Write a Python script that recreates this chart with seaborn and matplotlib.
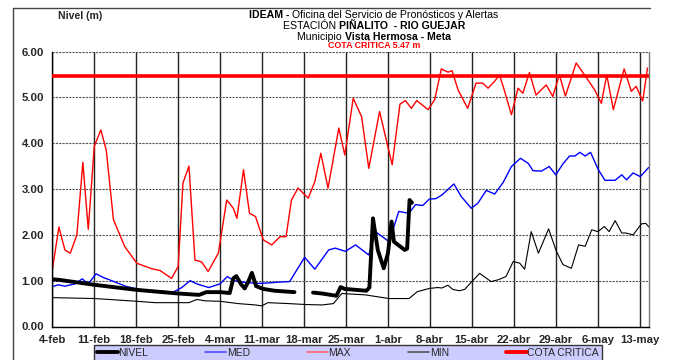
import numpy as np
import pandas as pd
import matplotlib
matplotlib.use("Agg")
import matplotlib.pyplot as plt
from matplotlib.lines import Line2D
import seaborn as sns

# ---------------- data (days after 4-feb) ----------------
tick_labels = ["4-feb", "11-feb", "18-feb", "25-feb", "4-mar", "11-mar", "18-mar",
               "25-mar", "1-abr", "8-abr", "15-abr", "22-abr", "29-abr", "6-may", "13-may"]

max_day = [0, 1.1, 2.1, 3, 4.1, 5.1, 6, 7, 8.1, 9, 10.2, 12.1, 14.1, 16.6, 18, 19.9, 21, 21.8,
           22.8, 23.8, 24.9, 26, 27.7, 29.1, 30.2, 30.8, 31.9, 32.9, 33.9, 35.2, 36.6, 38, 39,
           39.9, 41, 42.7, 43.8, 44.8, 46, 47.8, 48.8, 50.2, 51.6, 52.8, 54.6, 56.7, 58, 58.9,
           59.9, 60.8, 62.7, 63.8, 64.9, 66, 66.7, 67.7, 69.3, 70.7, 71.8, 72.7, 73.8, 74.6,
           75.4, 76.6, 77.7, 78.5, 79.6, 80.7, 82.4, 83.5, 84.6, 85.6, 87.4, 89, 90.5, 91.6,
           92.5, 93.6, 95.4, 96.6, 97.4, 98.5, 99.3]
max_val = [1.23, 2.17, 1.67, 1.60, 2.00, 3.58, 2.12, 3.93, 4.29, 3.85, 2.33, 1.74, 1.38, 1.26,
           1.22, 1.05, 1.31, 3.13, 3.50, 1.45, 1.41, 1.20, 1.60, 2.76, 2.58, 2.36, 3.42, 2.47,
           2.40, 1.89, 1.78, 1.96, 1.96, 2.76, 3.02, 2.80, 3.16, 3.78, 3.02, 4.33, 3.74, 4.98,
           4.58, 3.45, 4.69, 3.53, 4.85, 4.93, 4.76, 4.93, 4.73, 4.95, 5.62, 5.55, 5.58, 5.16,
           4.76, 5.31, 5.31, 5.20, 5.35, 5.49, 5.16, 4.62, 5.20, 5.09, 5.54, 5.05, 5.27, 5.02,
           5.49, 5.03, 5.75, 5.45, 5.16, 4.87, 5.49, 4.73, 5.62, 5.13, 5.24, 4.92, 5.64]

med_day = [0, 1, 2.1, 3.8, 5, 5.7, 6.3, 7.3, 8.5, 9.9, 12.2, 14.4, 17.2, 20.2, 21.6, 23, 24.1,
           26.1, 28, 29.2, 30.3, 32.2, 34.5, 36, 38, 39.6, 42.1, 43.8, 46.1, 47.2, 48.9, 50.6,
           52.8, 53.9, 56.2, 57.8, 59.5, 60.6, 61.8, 62.9, 64, 65, 67, 68.2, 69.9, 71, 72.4,
           73.8, 75.2, 76.6, 78.1, 79.4, 80.2, 81.6, 82.9, 84, 85.2, 86.3, 87.2, 88, 88.9, 89.8,
           91.1, 92.2, 93.9, 95, 95.8, 96.9, 98.1, 99.5]
med_val = [0.87, 0.91, 0.88, 0.93, 1.04, 0.96, 0.98, 1.15, 1.07, 1.00, 0.88, 0.81, 0.78, 0.75,
           0.85, 1.00, 0.93, 0.85, 0.93, 1.09, 1.00, 0.96, 0.94, 0.95, 0.97, 0.98, 1.51, 1.25,
           1.67, 1.71, 1.64, 1.78, 1.56, 2.07, 1.85, 2.51, 2.47, 2.66, 2.64, 2.78, 2.79, 2.87,
           3.11, 2.84, 2.58, 2.69, 2.97, 2.89, 3.14, 3.49, 3.67, 3.56, 3.40, 3.39, 3.49, 3.31,
           3.55, 3.72, 3.72, 3.80, 3.72, 3.80, 3.42, 3.19, 3.19, 3.31, 3.20, 3.35, 3.27, 3.47]

min_day = [0, 7.1, 14.1, 17.2, 21.1, 22.8, 24.1, 25.5, 28, 31, 33.9, 34.9, 36, 39.4, 42.2, 45,
           46.9, 48.3, 52.2, 56.2, 59.5, 60.9, 62.9, 64.3, 65, 66, 66.8, 67.9, 68.8, 70, 71.3,
           73.2, 74.4, 75.7, 76.9, 78, 78.8, 79.9, 81.1, 82.8, 84.1, 85.2, 86.6, 87.8, 88.9, 90,
           91, 92.1, 92.9, 93.9, 95, 95.7, 96.9, 98.3, 99, 99.9]
min_val = [0.63, 0.61, 0.55, 0.52, 0.52, 0.52, 0.59, 0.56, 0.55, 0.50, 0.47, 0.45, 0.52, 0.50,
           0.48, 0.47, 0.50, 0.72, 0.69, 0.61, 0.61, 0.76, 0.83, 0.85, 0.84, 0.90, 0.81, 0.78,
           0.81, 0.98, 1.16, 0.98, 1.02, 1.09, 1.42, 1.38, 1.25, 2.07, 1.60, 2.13, 1.64, 1.35,
           1.27, 1.78, 1.75, 2.11, 2.07, 2.18, 2.07, 2.31, 2.04, 2.04, 2.00, 2.24, 2.25, 2.12]

nivel1_day = [0, 1, 7, 14, 21, 24.5, 25.7, 28, 29.6, 30.2, 30.7, 31.5, 32.1, 32.7, 33.3, 34,
              35.2, 37.1, 40.4]
nivel1_val = [1.03, 1.02, 0.91, 0.80, 0.72, 0.69, 0.75, 0.75, 0.73, 1.05, 1.10, 0.92, 0.83,
              0.98, 1.17, 0.88, 0.82, 0.78, 0.75]
nivel2_day = [43.5, 45, 47.4, 48.1, 48.8, 52.4, 52.9, 53.5, 54.3, 55.3, 56.0, 56.6, 57.0, 58.8,
              59.2, 59.6, 60.0]
nivel2_val = [0.74, 0.72, 0.67, 0.86, 0.82, 0.78, 0.85, 2.36, 1.67, 1.27, 1.60, 2.29, 1.85,
              1.67, 1.70, 2.76, 2.70]

cota_critica = 5.47

# ---------------- styling ----------------
sns.set_style("white")
plt.rcParams['font.family'] = ['Liberation Sans', 'DejaVu Sans']

W, H = 673, 360
fig = plt.figure(figsize=(W / 100, H / 100), dpi=100)
ax = fig.add_axes([52.3 / W, 1 - 326.5 / H, (649.3 - 52.3) / W, (326.5 - 51.5) / H])

c_max, c_med, c_min, c_niv = "#ff0000", "#0000ff", "#000000", "#000000"

sns.lineplot(x=max_day, y=max_val, ax=ax, color=c_max, lw=1.0, sort=False)
sns.lineplot(x=med_day, y=med_val, ax=ax, color=c_med, lw=1.0, sort=False)
sns.lineplot(x=min_day, y=min_val, ax=ax, color=c_min, lw=0.8, sort=False)
sns.lineplot(x=nivel1_day, y=nivel1_val, ax=ax, color=c_niv, lw=2.8, sort=False)
sns.lineplot(x=nivel2_day, y=nivel2_val, ax=ax, color=c_niv, lw=2.8, sort=False)
ax.axhline(cota_critica, color="#ff0000", lw=2.6, zorder=5)

ax.set_xlim(0, 99.6)
ax.set_ylim(0, 6)
ax.set_xticks(np.arange(len(tick_labels)) * 7)
ax.set_xticklabels(tick_labels, fontsize=8.2, fontweight="bold")
yt = np.arange(0, 7)
ax.set_yticks(yt)
ax.set_yticklabels([f"{v:.2f}" for v in yt], fontsize=8.2, fontweight="bold")
ax.set_xlabel("")
ax.set_ylabel("")
ax.tick_params(axis="both", direction="out", length=4, width=1, color="black", pad=2)

ax.set_axisbelow(True)
ax.grid(axis="x", color="#222222", lw=1.0, ls="-")
ax.grid(axis="y", color="#555555", lw=0.8, ls=(0, (2, 1)))
for s in ["left", "bottom"]:
    ax.spines[s].set_color("black")
    ax.spines[s].set_linewidth(1.0)
ax.spines["top"].set_visible(False)
ax.spines["right"].set_color("#777777")
ax.spines["right"].set_linewidth(1.0)

# outer frame
fig.add_artist(Line2D([13 / W, 13 / W], [0, 1 - 8 / H], color="#444444", lw=1.0))
fig.add_artist(Line2D([13 / W, 650 / W], [1 - 8 / H, 1 - 8 / H], color="#444444", lw=1.0))

# titles
fig.canvas.draw()
renderer = fig.canvas.get_renderer()


def mixed_line(xc, y, parts, size, color="black"):
    texts = []
    widths = []
    for s, w in parts:
        t = fig.text(0, 1 - y / H, s, fontsize=size, fontweight=w, color=color,
                     ha="left", va="center")
        widths.append(t.get_window_extent(renderer).width)
        texts.append(t)
    total = sum(widths)
    x = xc - total / 2
    for t, wd in zip(texts, widths):
        t.set_x(x / W)
        x += wd


mixed_line(374, 15, [("IDEAM - ", "bold"),
                     ("Oficina del Servicio de Pronósticos y Alertas", "normal")], 7.6)
mixed_line(374, 26, [("ESTACIÓN ", "normal"), ("PIÑALITO  - RIO GUEJAR", "bold")], 7.6)
mixed_line(374, 37, [("Municipio ", "normal"), ("Vista Hermosa - Meta", "bold")], 7.6)
mixed_line(374, 46, [("COTA CRÍTICA 5.47 m", "bold")], 6.4, color="#ff0000")
fig.text(58 / W, 1 - 16 / H, "Nivel (m)", fontsize=7.6, fontweight="bold", ha="left", va="center")

# legend
handles = [Line2D([], [], color="black", lw=2.8),
           Line2D([], [], color="#4d4dff", lw=1.2),
           Line2D([], [], color="#ff6666", lw=1.2),
           Line2D([], [], color="#555555", lw=1.2),
           Line2D([], [], color="#ff0000", lw=2.8)]
labels = ["NIVEL", "MED", "MAX", "MIN", "COTA CRITICA"]
leg = fig.legend(handles, labels, loc="center", bbox_to_anchor=(348 / W, 1 - 353 / H),
                 ncol=5, frameon=True, fancybox=False, fontsize=7.5, handlelength=2.0,
                 handletextpad=0.05, columnspacing=5.5, borderpad=0.25, borderaxespad=0)
leg.get_frame().set_facecolor("#ccccff")
leg.get_frame().set_edgecolor("#333333")
leg.get_frame().set_linewidth(1.0)
leg.get_frame().set_alpha(1)

fig.savefig("out.png", dpi=100)
